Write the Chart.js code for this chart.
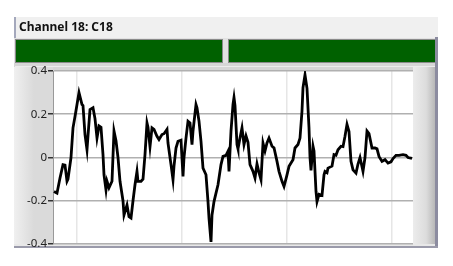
<!DOCTYPE html>
<html>
<head>
<meta charset="utf-8">
<script src="https://cdn.jsdelivr.net/npm/chart.js@4.4.1/dist/chart.umd.min.js"></script>
<style>
  html, body { margin: 0; padding: 0; background: #fff; }
</style>
</head>
<body>
<canvas id="graphic" width="453" height="266"></canvas>
<script>
const channelTitle = 'Channel 18: C18';

// sample index along the trace and the amplitude
const sampleIdx = [1, 4, 7, 10, 12, 14, 15, 18, 20, 22, 24, 26, 29, 30, 32, 34, 35, 37, 40, 42, 44, 46, 48, 50, 51, 53, 54, 56, 59, 61, 63, 65, 67, 70, 71, 73, 74, 76, 78, 80, 82, 84, 85, 88, 90, 92, 94, 95, 97, 99, 101, 104, 106, 109, 111, 114, 115, 118, 120, 121, 123, 125, 128, 130, 131, 133, 135, 137, 139, 140, 143, 144, 146, 148, 150, 153, 155, 156, 158, 159, 161, 163, 165, 168, 170, 173, 175, 176, 178, 180, 181, 182, 184, 185, 187, 189, 191, 193, 195, 197, 200, 202, 204, 206, 208, 210, 212, 214, 216, 219, 221, 224, 226, 229, 231, 234, 236, 240, 242, 245, 247, 249, 250, 252, 254, 256, 257, 258, 260, 261, 263, 264, 266, 269, 271, 272, 274, 275, 279, 281, 283, 285, 288, 290, 292, 294, 296, 298, 300, 303, 305, 307, 310, 312, 314, 316, 319, 322, 324, 326, 329, 332, 335, 338, 340, 343, 346, 350, 353, 355, 359];
const amplitude = [-0.157, -0.165, -0.095, -0.033, -0.035, -0.11, -0.10, 0.0, 0.137, 0.19, 0.245, 0.30, 0.245, 0.24, 0.106, 0.036, 0.10, 0.222, 0.23, 0.18, 0.09, 0.146, 0.14, 0.013, -0.08, -0.15, -0.11, -0.14, -0.11, 0.122, 0.077, 0.0, -0.11, -0.2, -0.266, -0.235, -0.22, -0.274, -0.28, -0.2, -0.126, -0.064, -0.11, -0.11, -0.10, 0.013, 0.16, 0.14, 0.05, 0.137, 0.13, 0.098, 0.083, 0.106, 0.11, 0.13, 0.067, -0.033, -0.103, -0.04, 0.044, 0.075, 0.08, -0.088, 0.0, 0.09, 0.168, 0.16, 0.06, 0.122, 0.245, 0.23, 0.168, 0.075, -0.049, -0.08, -0.204, -0.28, -0.39, -0.266, -0.204, -0.165, -0.126, -0.033, 0.005, 0.01, 0.029, -0.064, 0.122, 0.245, 0.277, 0.24, 0.06, 0.04, 0.09, 0.137, 0.06, 0.1, 0.07, -0.033, -0.064, -0.095, -0.03, -0.07, -0.103, 0.067, 0.03, 0.067, 0.09, 0.052, 0.045, -0.018, -0.064, -0.11, -0.134, -0.08, -0.041, -0.01, 0.044, 0.06, 0.09, 0.215, 0.323, 0.382, 0.32, 0.137, 0.0, -0.06, 0.052, 0.03, -0.157, -0.204, -0.17, -0.175, -0.08, -0.064, -0.07, -0.049, -0.04, 0.013, 0.01, 0.036, 0.052, 0.05, 0.098, 0.153, 0.12, -0.018, -0.057, -0.072, -0.03, 0.0, -0.064, 0.0, 0.122, 0.11, 0.044, 0.044, 0.04, 0.005, -0.018, -0.01, -0.026, -0.02, -0.005, 0.01, 0.01, 0.013, 0.01, 0.0, -0.004];

const yTicks = [-0.4, -0.2, 0, 0.2, 0.4];
const xGrid = [24, 129, 234, 339];

// panel chrome drawn behind the plot (header, status bars, frame)
const panelFrame = {
    id: 'panelFrame',
    beforeDraw(chart) {
        const c = chart.ctx;
        const a = chart.chartArea;
        c.save();
        c.fillStyle = '#fff';
        c.fillRect(0, 0, chart.width, chart.height);

        // body
        c.fillStyle = '#e2e2e2';
        c.fillRect(14, 37, 424, 211);

        // header strip
        c.fillStyle = '#f0f0f0';
        c.fillRect(14, 17, 424, 21);
        c.fillStyle = '#a4a8bc';
        c.fillRect(14, 17, 2, 21);
        c.fillStyle = '#111';
        c.font = 'bold 12px "Noto Sans"';
        c.textBaseline = 'middle';
        c.fillText(channelTitle, 19, 27.5);

        // green status bars
        [[15, 223], [228, 437]].forEach(([x0, x1]) => {
            c.fillStyle = '#8a8a8a';
            c.fillRect(x0, 39, x1 - x0, 24);
            c.fillStyle = '#006100';
            c.fillRect(x0 + 1, 40, x1 - x0 - 2, 22);
        });

        // strip under the bars
        c.fillStyle = '#d6d6d6';
        c.fillRect(14, 63, 424, 8);
        c.fillStyle = '#ededed';
        c.fillRect(15, 66, 422, 1);

        // left axis shading
        let g = c.createLinearGradient(14, 0, 34, 0);
        g.addColorStop(0, '#f0f0f0');
        g.addColorStop(1, '#dadada');
        c.fillStyle = g;
        c.fillRect(14, 67, a.left - 14, a.bottom - 67 + 3);

        // right shading and shadow edge
        g = c.createLinearGradient(a.right, 0, 435, 0);
        g.addColorStop(0, '#ececec');
        g.addColorStop(0.6, '#dcdcdc');
        g.addColorStop(1, '#b8b8b8');
        c.fillStyle = g;
        c.fillRect(a.right, 67, 435 - a.right, a.bottom - 67 + 3);
        c.fillStyle = '#8c8ca0';
        c.fillRect(435, 37, 3, 211);

        // bottom edge
        c.fillStyle = '#e8e8e8';
        c.fillRect(14, a.bottom, 421, 3);
        c.fillStyle = '#9a9aaa';
        c.fillRect(14, 246, 424, 2);

        // plot background
        c.fillStyle = '#fff';
        c.fillRect(a.left, a.top, a.right - a.left, a.bottom - a.top);
        c.restore();
    }
};

new Chart(document.getElementById('graphic'), {
    type: 'line',
    data: {
        datasets: [{
            data: sampleIdx.map((x, i) => ({ x: x, y: amplitude[i] })),
            borderColor: '#000',
            borderWidth: 2.8,
            pointRadius: 0,
            tension: 0,
            fill: false
        }]
    },
    options: {
        responsive: false,
        animation: false,
        events: [],
        layout: { padding: { left: 14, top: 71, right: 40, bottom: 22 } },
        plugins: {
            legend: { display: false },
            tooltip: { enabled: false },
            title: { display: false }
        },
        scales: {
            x: {
                type: 'linear',
                min: 0,
                max: 360,
                afterBuildTicks: (scale) => { scale.ticks = xGrid.map(v => ({ value: v })); },
                afterFit: (scale) => { scale.height = 0; },
                ticks: { display: false },
                grid: { color: '#e6e6e6', lineWidth: 1.5, drawTicks: false },
                border: { display: false }
            },
            y: {
                min: -0.4,
                max: 0.4,
                afterBuildTicks: (scale) => { scale.ticks = yTicks.map(v => ({ value: v })); },
                afterFit: (scale) => { scale.width = 39; },
                ticks: {
                    callback: (v) => String(v),
                    color: '#222',
                    padding: 1,
                    font: { family: '"Noto Sans"', size: 11.5 }
                },
                grid: { color: '#b0b0b0', lineWidth: 1.5, tickLength: 5, tickColor: '#333' },
                border: { color: '#999', width: 1 }
            }
        }
    },
    plugins: [panelFrame]
});
</script>
</body>
</html>
